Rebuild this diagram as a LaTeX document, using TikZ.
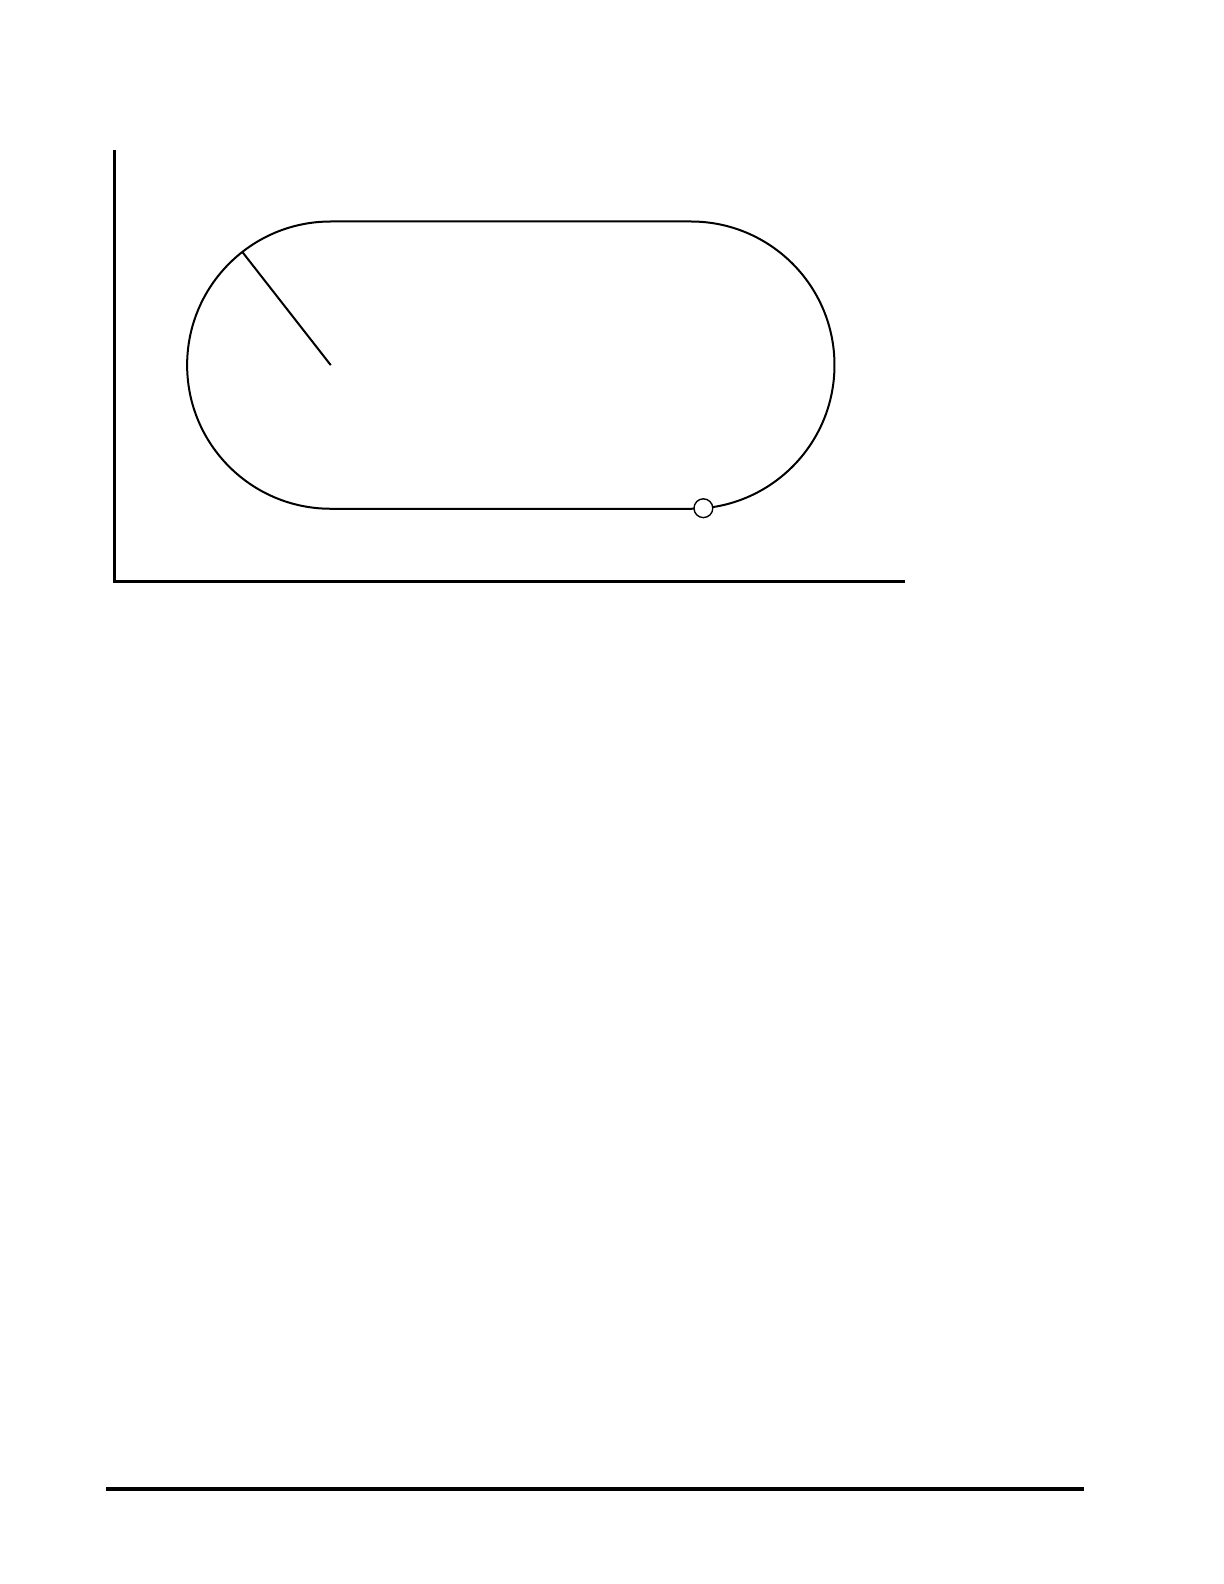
\documentclass[tikz,border=0pt]{standalone}
\usetikzlibrary{calc}
\begin{document}
\begin{tikzpicture}[x=0.5058bp, y=0.5058bp]
\useasboundingbox (0,0) rectangle (1210,1566);
\tikzset{axis/.style={line width=1.3bp}, track/.style={line width=1bp}}

\coordinate (O) at (113,991);
\coordinate (ytop) at (113,1418);
\coordinate (xend) at (895,991);
\draw[axis] (ytop) -- (O) -- (xend);

\coordinate (cl) at (327,1205);
\coordinate (cr) at (683,1205);
\draw[track] (327,1347) -- (683,1347) arc[start angle=90, end angle=-90, radius=142]
  -- (327,1063) arc[start angle=270, end angle=90, radius=142] -- cycle;

\draw[track] (cl) -- ($(cl)+(128:142)$); % radius

\node[circle, draw, fill=white, line width=0.7bp, minimum size=9.4bp, inner sep=0pt] (ball) at ($(cr)+(-85:142)$) {};

\draw[line width=1.6bp] (105,94) -- (1072,94);
\end{tikzpicture}
\end{document}
